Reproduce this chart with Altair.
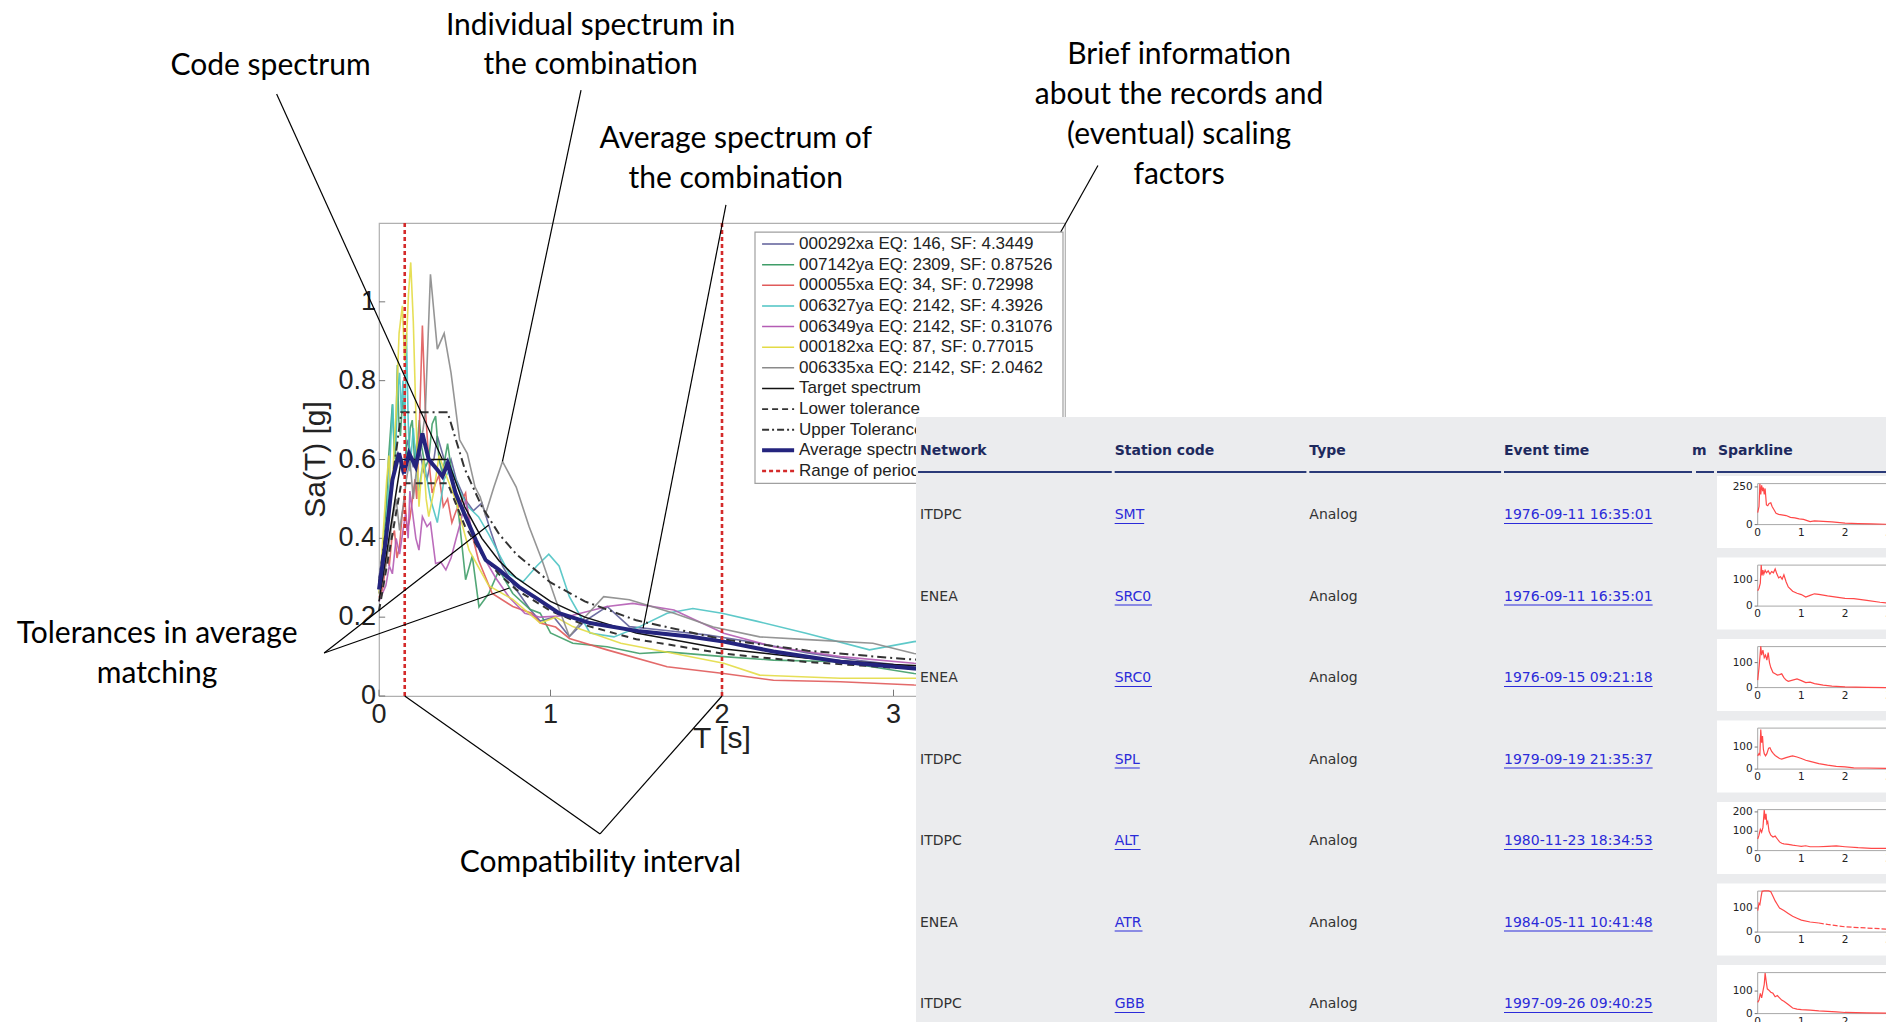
import altair as alt
import pandas as pd

# ============================================================ DATA
T_TICKS = [0, 1, 2, 3]
SA_TICKS = [0, 0.2, 0.4, 0.6, 0.8, 1.0]
SA_TICK_LABELS = ["0", "0.2", "0.4", "0.6", "0.8", "1"]
RANGE_T = [0.15, 2.0]

REC_LABELS = [
    "000292xa EQ: 146, SF: 4.3449",
    "007142ya EQ: 2309, SF: 0.87526",
    "000055xa EQ: 34, SF: 0.72998",
    "006327ya EQ: 2142, SF: 4.3926",
    "006349ya EQ: 2142, SF: 0.31076",
    "000182xa EQ: 87, SF: 0.77015",
    "006335xa EQ: 2142, SF: 2.0462",
]
REC_COLORS = ["#5e5e98", "#3f9d68", "#e05a5a", "#4cc3c3", "#b45cb4", "#e3db45", "#8a8a8a"]

T_000292 = [0, 0.02, 0.04, 0.06, 0.08, 0.1, 0.11, 0.13, 0.14, 0.16, 0.17, 0.19, 0.2, 0.22, 0.24, 0.26, 0.28,
            0.3, 0.32, 0.34, 0.36, 0.38, 0.4, 0.42, 0.45, 0.5, 0.55, 0.6, 0.65,
            0.72, 0.8, 0.88, 0.94, 1.02, 1.11, 1.2, 1.33, 1.46, 1.7, 1.91, 2.2, 2.49, 2.8, 3.12, 3.3]
SA_000292 = [0.3, 0.36, 0.42, 0.5, 0.55, 0.6, 0.62, 0.58, 0.56, 0.63, 0.65, 0.6, 0.58, 0.64, 0.62, 0.57, 0.55,
             0.59, 0.6, 0.66, 0.63, 0.6, 0.58, 0.6, 0.55, 0.5, 0.47, 0.49, 0.42,
             0.33, 0.27, 0.22, 0.19, 0.2, 0.151, 0.19, 0.227, 0.176, 0.165, 0.155, 0.135, 0.11, 0.09, 0.074, 0.07]

T_007142 = [0, 0.02, 0.03, 0.045, 0.055, 0.065, 0.078, 0.087, 0.095, 0.107, 0.115, 0.125, 0.137, 0.15, 0.16,
            0.17, 0.182, 0.194, 0.207, 0.22, 0.235, 0.25, 0.27, 0.29, 0.31, 0.33, 0.35, 0.37, 0.4,
            0.43, 0.466, 0.505, 0.544, 0.583, 0.64, 0.7, 0.78, 0.88, 0.94, 1.0, 1.13, 1.33, 1.52, 1.68, 2.01,
            2.3, 2.69, 3.12, 3.3]
SA_007142 = [0.28, 0.33, 0.4, 0.5, 0.6, 0.66, 0.74, 0.64, 0.6, 0.84, 0.7, 0.66, 0.75, 0.72, 0.62,
             0.6, 0.68, 0.7, 0.6, 0.62, 0.7, 0.63, 0.58, 0.6, 0.69, 0.71, 0.6, 0.565, 0.64,
             0.55, 0.455, 0.295, 0.355, 0.226, 0.26, 0.32, 0.26, 0.22, 0.21, 0.16, 0.134, 0.125, 0.108, 0.112, 0.1,
             0.091, 0.087, 0.057, 0.05]

T_000055 = [0, 0.02, 0.03, 0.045, 0.06, 0.075, 0.09, 0.105, 0.12, 0.135, 0.15, 0.165, 0.18, 0.195, 0.21, 0.22,
            0.233, 0.253, 0.27, 0.29, 0.31, 0.33, 0.35, 0.375, 0.4, 0.425, 0.45,
            0.505, 0.525, 0.58, 0.66, 0.78, 0.89, 0.94, 1.03, 1.11, 1.33, 1.68, 2.01, 2.3, 2.69, 3.12, 3.3]
SA_000055 = [0.25, 0.27, 0.3, 0.36, 0.33, 0.4, 0.42, 0.35, 0.38, 0.46, 0.5, 0.42, 0.45, 0.5, 0.55, 0.5,
             0.65, 0.94, 0.73, 0.6, 0.515, 0.54, 0.56, 0.48, 0.5, 0.44, 0.47,
             0.515, 0.44, 0.345, 0.26, 0.227, 0.21, 0.185, 0.175, 0.146, 0.117, 0.074, 0.057, 0.04, 0.036, 0.028,
             0.027]

T_006327 = [0, 0.02, 0.03, 0.045, 0.06, 0.07, 0.08, 0.09, 0.1, 0.11, 0.12, 0.13, 0.14, 0.15, 0.16, 0.17, 0.18,
            0.2, 0.23, 0.26, 0.3, 0.34, 0.38, 0.42, 0.47,
            0.52, 0.58, 0.64, 0.7, 0.76, 0.84, 0.92, 0.99, 1.05, 1.11, 1.23, 1.37, 1.52, 1.68, 1.83, 2.0, 2.2,
            2.49, 2.86, 3.12, 3.3]
SA_006327 = [0.27, 0.3, 0.35, 0.45, 0.55, 0.66, 0.74, 0.62, 0.66, 0.78, 0.82, 0.72, 0.8, 0.68, 0.92, 0.7, 0.57,
             0.68, 0.52, 0.6, 0.5, 0.44, 0.55, 0.58, 0.52,
             0.48, 0.455, 0.41, 0.36, 0.31, 0.29, 0.33, 0.36, 0.33, 0.252, 0.16, 0.15, 0.176, 0.21, 0.222, 0.21,
             0.19, 0.159, 0.117, 0.138, 0.145]

T_006349 = [0, 0.02, 0.04, 0.06, 0.078, 0.09, 0.1, 0.12, 0.14, 0.155, 0.17, 0.18, 0.2, 0.215, 0.233, 0.253, 0.28,
            0.3, 0.33, 0.36, 0.39, 0.42, 0.447, 0.475, 0.505,
            0.54, 0.6, 0.68, 0.76, 0.85, 0.94, 1.13, 1.33, 1.48, 1.72, 2.01, 2.3, 2.69, 3.12, 3.3]
SA_006349 = [0.24, 0.26, 0.28, 0.33, 0.31, 0.36, 0.4, 0.36, 0.42, 0.463, 0.4, 0.52, 0.45, 0.4, 0.37, 0.455, 0.43,
             0.44, 0.336, 0.34, 0.32, 0.35, 0.395, 0.44, 0.497,
             0.42, 0.36, 0.3, 0.25, 0.21, 0.2, 0.205, 0.227, 0.235, 0.218, 0.159, 0.125, 0.1, 0.083, 0.078]

T_000182 = [0, 0.015, 0.03, 0.045, 0.058, 0.07, 0.08, 0.09, 0.1, 0.117, 0.136, 0.15, 0.16, 0.172, 0.185, 0.2,
            0.214, 0.233, 0.245, 0.26, 0.275, 0.29, 0.32, 0.35,
            0.4, 0.447, 0.525, 0.64, 0.78, 0.94, 1.03, 1.13, 1.41, 1.72, 2.01, 2.22, 2.69, 3.12, 3.3]
SA_000182 = [0.26, 0.35, 0.45, 0.55, 0.61, 0.5, 0.55, 0.65, 0.72, 0.92, 0.99, 0.85, 0.9, 1.02, 1.1, 0.95,
             0.73, 0.48, 0.55, 0.6, 0.5, 0.455, 0.52, 0.61,
             0.55, 0.497, 0.37, 0.28, 0.245, 0.185, 0.2, 0.176, 0.134, 0.108, 0.083, 0.053, 0.045, 0.045, 0.045]

T_006335 = [0, 0.04, 0.08, 0.1, 0.12, 0.14, 0.16, 0.18, 0.2, 0.22, 0.24, 0.27, 0.3, 0.34, 0.38, 0.42, 0.47,
            0.515, 0.56, 0.59, 0.62, 0.67, 0.72, 0.8, 0.875, 0.95, 1.03, 1.11, 1.2, 1.31, 1.46, 1.72, 1.95, 2.22,
            2.5, 2.88, 3.12, 3.3]
SA_006335 = [0.26, 0.33, 0.45, 0.5, 0.42, 0.48, 0.55, 0.6, 0.5, 0.58, 0.62, 0.72, 1.07, 0.88, 0.92, 0.82, 0.65,
             0.615, 0.53, 0.505, 0.46, 0.53, 0.595, 0.53, 0.43, 0.345, 0.244, 0.151, 0.2, 0.252, 0.244, 0.21,
             0.175, 0.15, 0.143, 0.134, 0.108, 0.1]

T_AVG = [0, 0.04, 0.078, 0.117, 0.146, 0.175, 0.214, 0.253, 0.29, 0.34, 0.37, 0.4, 0.447, 0.505, 0.564, 0.622,
         0.7, 0.816, 0.933, 1.05, 1.23, 1.52, 1.81, 2.01, 2.3, 2.69, 3.12, 3.3]
SA_AVG = [0.27, 0.396, 0.548, 0.616, 0.565, 0.616, 0.582, 0.666, 0.6, 0.574, 0.557, 0.59, 0.514, 0.455, 0.396,
          0.345, 0.32, 0.277, 0.244, 0.21, 0.185, 0.164, 0.151, 0.138, 0.113, 0.087, 0.07, 0.066]

T_CODE = [0, 0.13, 0.4, 0.5, 0.6, 0.7, 0.8, 1.0, 1.2, 1.5, 2.0, 2.5, 3.0, 3.5, 4.0]
SA_TARGET = [0.24, 0.6, 0.6, 0.48, 0.4, 0.343, 0.3, 0.24, 0.2, 0.16, 0.12, 0.096, 0.08, 0.069, 0.06]
SA_LOWER = [0.216, 0.54, 0.54, 0.432, 0.36, 0.309, 0.27, 0.216, 0.18, 0.144, 0.108, 0.086, 0.072, 0.062, 0.054]
SA_UPPER = [0.288, 0.72, 0.72, 0.576, 0.48, 0.411, 0.36, 0.288, 0.24, 0.192, 0.144, 0.115, 0.096, 0.082, 0.072]

LEG_EXTRA = ["Target spectrum", "Lower tolerance", "Upper Tolerance", "Average spectrum",
             "Range of periods"]

# table
HEADERS = ["Network", "Station code", "Type", "Event time", "m", "Sparkline"]
NETWORK = ["ITDPC", "ENEA", "ENEA", "ITDPC", "ITDPC", "ENEA", "ITDPC"]
STATION = ["SMT", "SRC0", "SRC0", "SPL", "ALT", "ATR", "GBB"]
TYPE = ["Analog", "Analog", "Analog", "Analog", "Analog", "Analog", "Analog"]
EVENT = ["1976-09-11 16:35:01", "1976-09-11 16:35:01", "1976-09-15 09:21:18", "1979-09-19 21:35:37",
         "1980-11-23 18:34:53", "1984-05-11 10:41:48", "1997-09-26 09:40:25"]

# sparklines
SP_T1 = [0, 0.03, 0.05, 0.07, 0.09, 0.11, 0.13, 0.15, 0.17, 0.2, 0.23, 0.26, 0.3, 0.33, 0.37, 0.42, 0.48, 0.55,
         0.65, 0.75, 0.85, 0.95, 1.05, 1.15, 1.2, 1.3, 1.5, 1.7, 2.0, 2.3, 2.6, 3.0, 3.3]
SP_V1 = [80, 120, 270, 200, 260, 230, 245, 200, 240, 130, 125, 140, 145, 120, 100, 75, 68, 65,
         60, 48, 45, 38, 35, 25, 20, 25, 22, 18, 10, 7, 5, 2, 1]
SP_T2 = [0, 0.03, 0.06, 0.08, 0.1, 0.12, 0.14, 0.17, 0.2, 0.24, 0.28, 0.32, 0.36, 0.4, 0.44, 0.48, 0.52, 0.56,
         0.6, 0.65, 0.7, 0.8, 0.9, 1.0, 1.1, 1.2, 1.3, 1.4, 1.6, 1.8, 2.0, 2.2, 2.5, 2.8, 3.0, 3.3]
SP_V2 = [60, 70, 90, 160, 120, 140, 125, 140, 130, 138, 125, 135, 130, 145, 125, 110, 115, 105,
         122, 95, 75, 58, 50, 45, 35, 42, 48, 46, 40, 35, 30, 29, 22, 15, 12, 11]
SP_T3 = [0, 0.03, 0.05, 0.07, 0.09, 0.12, 0.15, 0.18, 0.21, 0.24, 0.27, 0.3, 0.35, 0.4, 0.45, 0.5, 0.55, 0.6,
         0.65, 0.7, 0.8, 0.9, 1.0, 1.1, 1.2, 1.3, 1.5, 1.7, 2.0, 2.5, 3.0, 3.3]
SP_V3 = [30, 80, 120, 165, 130, 150, 120, 130, 110, 140, 100, 80, 60, 55, 50, 52, 55, 40,
         30, 25, 30, 35, 28, 20, 22, 16, 10, 6, 3, 1, 0, 0]
SP_T4 = [0, 0.03, 0.05, 0.07, 0.09, 0.11, 0.13, 0.15, 0.18, 0.21, 0.25, 0.28, 0.32, 0.36, 0.4, 0.45, 0.5, 0.55,
         0.65, 0.75, 0.8, 0.9, 1.0, 1.1, 1.2, 1.4, 1.6, 1.8, 2.0, 2.2, 2.5, 3.0, 3.3]
SP_V4 = [60, 70, 65, 180, 120, 150, 90, 70, 60, 70, 95, 97, 80, 70, 62, 55, 48, 45,
         52, 58, 60, 55, 48, 40, 35, 25, 18, 12, 10, 6, 5, 3, 3]
SP_T5 = [0, 0.03, 0.06, 0.09, 0.12, 0.15, 0.17, 0.19, 0.21, 0.23, 0.26, 0.3, 0.35, 0.4, 0.45, 0.5, 0.55, 0.6,
         0.7, 0.8, 0.9, 1.0, 1.1, 1.2, 1.4, 1.6, 1.8, 2.0, 2.3, 2.6, 3.0, 3.3]
SP_V5 = [60, 80, 110, 95, 120, 210, 160, 190, 140, 150, 100, 80, 70, 75, 60, 45, 38, 35,
         32, 28, 25, 22, 25, 20, 20, 22, 24, 20, 15, 12, 12, 12]
SP_T6 = [0, 0.03, 0.05, 0.08, 0.1, 0.15, 0.2, 0.25, 0.3, 0.35, 0.4, 0.45, 0.5, 0.6, 0.7, 0.8, 0.9, 1.0, 1.2,
         1.4, 1.6, 1.8, 2.0, 2.2, 2.5, 2.8, 3.0, 3.3]
SP_V6 = [90, 120, 115, 150, 170, 172, 172, 172, 168, 150, 130, 115, 100, 90, 78, 66, 58, 50, 42,
         38, 32, 27, 22, 20, 17, 14, 12, 11]
SP_T7 = [0, 0.03, 0.06, 0.09, 0.12, 0.15, 0.17, 0.19, 0.22, 0.25, 0.3, 0.35, 0.4, 0.45, 0.5, 0.55, 0.6, 0.7,
         0.8, 0.9, 1.0, 1.2, 1.4, 1.6, 1.8, 2.0, 2.5, 3.0, 3.3]
SP_V7 = [50, 60, 90, 70, 100, 130, 180, 150, 110, 105, 95, 90, 75, 80, 70, 60, 55, 40,
         25, 20, 18, 15, 12, 10, 8, 5, 3, 2, 2]
SP_YMAX = [272, 160, 164, 186, 212, 171, 182]
SP_YTICKS = [[0, 250], [0, 100], [0, 100], [0, 100], [0, 100, 200], [0, 100], [0, 100]]
SP_XTICKS = [0, 1, 2, 3]
SP_GAP_FROM = [None, None, None, None, None, 1.4, None]   # where a record's curve turns into a broken line

# ============================================================ LAYOUT (page pixels)
VX0, VY0 = 379, 223          # top-left of the plot area on the page
W, H = 686, 473
PAD = {"left": VX0 - 8, "top": VY0 - 8, "right": 1878 - (VX0 - 8) - W, "bottom": 1014 - (VY0 - 8) - H}


def px(x):
    return x - VX0


def py(y):
    return y - VY0


F_PLOT = "Liberation Sans"
F_NOTE = "Lato"
F_TAB = "DejaVu Sans"

# ============================================================ MAIN PLOT
SX = alt.Scale(domain=[0, 4], nice=False, zero=False)
SY = alt.Scale(domain=[0, 1.2], nice=False, zero=False)


def XQ(f):
    return alt.X(f, type="quantitative", scale=SX, axis=None)


def YQ(f):
    return alt.Y(f, type="quantitative", scale=SY, axis=None)


recs = []
for lab, T, S in zip(REC_LABELS,
                     [T_000292, T_007142, T_000055, T_006327, T_006349, T_000182, T_006335],
                     [SA_000292, SA_007142, SA_000055, SA_006327, SA_006349, SA_000182, SA_006335]):
    recs.append(pd.DataFrame({"T": T, "Sa": S, "rec": lab}))
df_rec = pd.concat(recs, ignore_index=True)

spectra = alt.Chart(df_rec).mark_line(strokeWidth=1.6, opacity=0.9).encode(
    x=XQ("T"), y=YQ("Sa"),
    color=alt.Color("rec:N", scale=alt.Scale(domain=REC_LABELS, range=REC_COLORS), legend=None),
    detail="rec:N",
)

df_code = pd.DataFrame({"T": T_CODE, "target": SA_TARGET, "lower": SA_LOWER, "upper": SA_UPPER})
target = alt.Chart(df_code).mark_line(color="#111", strokeWidth=1.5).encode(x=XQ("T"), y=YQ("target"))
lower = alt.Chart(df_code).mark_line(color="#333", strokeWidth=2, strokeDash=[7, 5]).encode(
    x=XQ("T"), y=YQ("lower"))
upper = alt.Chart(df_code).mark_line(color="#333", strokeWidth=2, strokeDash=[9, 4, 2, 4]).encode(
    x=XQ("T"), y=YQ("upper"))
average = alt.Chart(pd.DataFrame({"T": T_AVG, "Sa": SA_AVG})).mark_line(
    color="#24247e", strokeWidth=4).encode(x=XQ("T"), y=YQ("Sa"))
ranges = alt.Chart(pd.DataFrame({"T": RANGE_T, "lo": [0, 0], "hi": [1.2, 1.2]})).mark_rule(
    color="#d42a2a", strokeWidth=2.6, strokeDash=[4, 3]).encode(x=XQ("T"), y=YQ("lo"), y2="hi:Q")

# axes drawn from the tick lists through the plot's scales
df_xt = pd.DataFrame({"T": T_TICKS, "lab": [str(v) for v in T_TICKS]})
df_xt["z"] = 0.0
df_xt["z2"] = 0.016
df_yt = pd.DataFrame({"Sa": SA_TICKS, "lab": SA_TICK_LABELS})
df_yt["z"] = 0.0
df_yt["z2"] = 0.036
x_labels = alt.Chart(df_xt).mark_text(font=F_PLOT, fontSize=27, color="#222", align="center",
                                      baseline="middle", dy=19).encode(x=XQ("T"), y=YQ("z"), text="lab:N")
y_labels = alt.Chart(df_yt).mark_text(font=F_PLOT, fontSize=27, color="#222", align="right",
                                      baseline="middle", dx=-3).encode(x=XQ("z"), y=YQ("Sa"), text="lab:N")
x_ticks = alt.Chart(df_xt).mark_rule(color="#777", strokeWidth=1).encode(x=XQ("T"), y=YQ("z"), y2="z2:Q")
y_ticks = alt.Chart(df_yt).mark_rule(color="#777", strokeWidth=1).encode(x=XQ("z"), x2="z2:Q", y=YQ("Sa"))
titles = alt.Chart(pd.DataFrame({"t": ["T [s]"], "T": [2.0], "Sa": [-0.108]})).mark_text(
    font=F_PLOT, fontSize=30, color="#222", align="center", baseline="middle").encode(
    x=XQ("T"), y=YQ("Sa"), text="t:N")
ytitle = alt.Chart(pd.DataFrame({"t": ["Sa(T) [g]"], "T": [-0.365], "Sa": [0.6]})).mark_text(
    font=F_PLOT, fontSize=30, color="#222", align="center", baseline="middle", angle=270).encode(
    x=XQ("T"), y=YQ("Sa"), text="t:N")

# annotations (positions given in the plot's own T / Sa units)
ANN_TEXT = ["Code spectrum", "Individual spectrum in", "the combination", "Average spectrum of",
            "the combination", "Brief information", "about the records and", "(eventual) scaling",
            "factors", "Tolerances in average", "matching", "Compatibility interval"]
ANN_T = [-0.632, 1.234, 1.234, 2.080, 2.080, 4.665, 4.665, 4.665, 4.665, -1.294, -1.294, 1.291]
ANN_SA = [1.598, 1.699, 1.601, 1.414, 1.312, 1.625, 1.524, 1.423, 1.322, 0.157, 0.056, -0.423]
ann_text = alt.Chart(pd.DataFrame({"t": ANN_TEXT, "T": ANN_T, "Sa": ANN_SA})).mark_text(
    font=F_NOTE, fontSize=30, color="#000", align="center", baseline="middle").encode(
    x=XQ("T"), y=YQ("Sa"), text="t:N")

LEAD_T1 = [-0.597, 1.178, 2.023, 4.192, -0.32, -0.32, 1.289, 1.289]
LEAD_S1 = [1.527, 1.537, 1.246, 1.346, 0.109, 0.109, -0.35, -0.35]
LEAD_T2 = [0.37, 0.72, 1.54, 3.967, 0.64, 0.76, 0.15, 2.0]
LEAD_S2 = [0.60, 0.595, 0.172, 1.171, 0.434, 0.274, 0.0, 0.0]
leaders = alt.Chart(pd.DataFrame({"T1": LEAD_T1, "S1": LEAD_S1, "T2": LEAD_T2, "S2": LEAD_S2})).mark_rule(
    color="#000", strokeWidth=1.2).encode(x=XQ("T1"), y=YQ("S1"), x2="T2:Q", y2="S2:Q")

main = alt.layer(x_ticks, y_ticks, spectra, target, lower, upper, average, ranges,
                 x_labels, y_labels, titles, ytitle, leaders, ann_text)

# ============================================================ LEGEND (inside plot box)
leg_labels = REC_LABELS + LEG_EXTRA
N_LEG = len(leg_labels)
LX = alt.Scale(domain=[0, 1], range=[px(755), px(1063)], nice=False, zero=False)
LY = alt.Scale(domain=[0, N_LEG - 1], range=[py(244), py(471)], nice=False, zero=False)
df_leg = pd.DataFrame({"i": list(range(N_LEG)), "lab": leg_labels})
df_leg["a"] = 0.023
df_leg["b"] = 0.127
df_leg["tx"] = 0.143

leg_box = alt.Chart(pd.DataFrame({"x0": [0], "x1": [1], "y0": [-0.58], "y1": [11.6]})).mark_rect(
    fill="white", stroke="#a0a0a0", strokeWidth=1.2).encode(
    x=alt.X("x0:Q", scale=LX, axis=None), x2="x1:Q",
    y=alt.Y("y0:Q", scale=LY, axis=None), y2="y1:Q")


def leg_line(idx, **kw):
    return alt.Chart(df_leg.iloc[[idx]]).mark_rule(**kw).encode(
        x=alt.X("a:Q", scale=LX, axis=None), x2="b:Q", y=alt.Y("i:Q", scale=LY, axis=None))


leg_cols = alt.Chart(df_leg.iloc[0:7]).mark_rule(strokeWidth=1.5).encode(
    x=alt.X("a:Q", scale=LX, axis=None), x2="b:Q", y=alt.Y("i:Q", scale=LY, axis=None),
    color=alt.Color("lab:N", scale=alt.Scale(domain=REC_LABELS, range=REC_COLORS), legend=None))
leg_text = alt.Chart(df_leg).mark_text(font=F_PLOT, fontSize=17, color="#222", align="left",
                                       baseline="middle").encode(
    x=alt.X("tx:Q", scale=LX, axis=None), y=alt.Y("i:Q", scale=LY, axis=None), text="lab:N")

legend = alt.layer(
    leg_box, leg_cols,
    leg_line(7, color="#111", strokeWidth=1.6),
    leg_line(8, color="#333", strokeWidth=1.8, strokeDash=[6, 4]),
    leg_line(9, color="#333", strokeWidth=1.8, strokeDash=[7, 3, 2, 3]),
    leg_line(10, color="#24247e", strokeWidth=4),
    leg_line(11, color="#d42a2a", strokeWidth=2.5, strokeDash=[4, 3]),
    leg_text,
)

# ============================================================ TABLE
COL_PITCH = (1504 - 920) / 3.0
ROW_PITCH = 81.5
CX = alt.Scale(domain=[0, 3], range=[px(920), px(1504)], nice=False, zero=False)
RY = alt.Scale(domain=[0, 6], range=[py(515), py(515 + 6 * ROW_PITCH)], nice=False, zero=False)
HEAD_COL = [0, 1, 2, 3, (1692 - 920) / COL_PITCH, (1718 - 920) / COL_PITCH]
HEAD_ROW = (451 - 515) / ROW_PITCH
LINE_ROW = (472 - 515) / ROW_PITCH
SEG_A = [-0.01, 1.0, 2.0, 3.0, (1696 - 920) / COL_PITCH, (1717 - 920) / COL_PITCH]
SEG_B = [0.985, 1.985, 2.985, (1692 - 920) / COL_PITCH, (1714 - 920) / COL_PITCH, 5.3]

panel = alt.Chart(pd.DataFrame({"c0": [(916 - 920) / COL_PITCH], "c1": [5.3],
                                "r0": [(417 - 515) / ROW_PITCH], "r1": [6.6]})).mark_rect(
    fill="#ebecee").encode(x=alt.X("c0:Q", scale=CX, axis=None), x2="c1:Q",
                          y=alt.Y("r0:Q", scale=RY, axis=None), y2="r1:Q")
head = alt.Chart(pd.DataFrame({"t": HEADERS, "c": HEAD_COL, "r": HEAD_ROW})).mark_text(
    font=F_TAB, fontSize=14, fontWeight="bold", color="#1e2a5e", align="left", baseline="middle").encode(
    x=alt.X("c:Q", scale=CX, axis=None), y=alt.Y("r:Q", scale=RY, axis=None), text="t:N")
head_line = alt.Chart(pd.DataFrame({"a": SEG_A, "b": SEG_B, "r": LINE_ROW})).mark_rule(
    color="#2a3a78", strokeWidth=2).encode(
    x=alt.X("a:Q", scale=CX, axis=None), x2="b:Q", y=alt.Y("r:Q", scale=RY, axis=None))

rows = list(range(len(NETWORK)))
df_plain = pd.DataFrame({"t": NETWORK + TYPE, "c": [0] * 7 + [2] * 7, "r": rows + rows})
cells = alt.Chart(df_plain).mark_text(font=F_TAB, fontSize=14, color="#333", align="left",
                                      baseline="middle").encode(
    x=alt.X("c:Q", scale=CX, axis=None), y=alt.Y("r:Q", scale=RY, axis=None), text="t:N")

CW = {"0": .636, "1": .636, "2": .636, "3": .636, "4": .636, "5": .636, "6": .636, "7": .636, "8": .636,
      "9": .636, "-": .361, ":": .337, " ": .318, "S": .635, "M": .863, "T": .611, "R": .695, "C": .698,
      "P": .603, "L": .557, "A": .684, "B": .686, "G": .775}
links_t = STATION + EVENT
links_c = [1] * 7 + [3] * 7
links_w = [sum(CW.get(ch, 0.6) for ch in s) * 14 / COL_PITCH for s in links_t]
df_links = pd.DataFrame({"t": links_t, "c": links_c, "r": rows + rows,
                         "c2": [c + w for c, w in zip(links_c, links_w)],
                         "ru": [r + 8.5 / ROW_PITCH for r in rows + rows]})
links = alt.Chart(df_links).mark_text(font=F_TAB, fontSize=14, color="#2b2bd9", align="left",
                                      baseline="middle").encode(
    x=alt.X("c:Q", scale=CX, axis=None), y=alt.Y("r:Q", scale=RY, axis=None), text="t:N")
underl = alt.Chart(df_links).mark_rule(color="#2b2bd9", strokeWidth=1).encode(
    x=alt.X("c:Q", scale=CX, axis=None), x2="c2:Q", y=alt.Y("ru:Q", scale=RY, axis=None))

df_boxes = pd.DataFrame({"r0": [r - 39 / ROW_PITCH for r in rows], "r1": [r + 33 / ROW_PITCH for r in rows]})
df_boxes["c0"] = (1717 - 920) / COL_PITCH
df_boxes["c1"] = 5.3
spark_boxes = alt.Chart(df_boxes).mark_rect(fill="white").encode(
    x=alt.X("c0:Q", scale=CX, axis=None), x2="c1:Q",
    y=alt.Y("r0:Q", scale=RY, axis=None), y2="r1:Q")

table = alt.layer(panel, head, head_line, cells, links, underl, spark_boxes)

# ============================================================ SPARKLINES
SP_T = [SP_T1, SP_T2, SP_T3, SP_T4, SP_T5, SP_T6, SP_T7]
SP_V = [SP_V1, SP_V2, SP_V3, SP_V4, SP_V5, SP_V6, SP_V7]
SPX = alt.Scale(domain=[0, 3], range=[px(1757.7), px(1888.7)], nice=False, zero=False)
sparks = []
for i in range(7):
    zero_y = 524.6 + i * ROW_PITCH
    top_y = zero_y - 41
    SPY = alt.Scale(domain=[0, SP_YMAX[i]], range=[py(zero_y), py(top_y)], nice=False, zero=False)
    df_sp = pd.DataFrame({"t": SP_T[i], "v": SP_V[i]})
    parts = []
    if SP_GAP_FROM[i] is None:
        parts.append(alt.Chart(df_sp).mark_line(color="#ff4848", strokeWidth=1.2).encode(
            x=alt.X("t:Q", scale=SPX, axis=None), y=alt.Y("v:Q", scale=SPY, axis=None)))
    else:
        g = SP_GAP_FROM[i]
        parts.append(alt.Chart(df_sp[df_sp.t <= g]).mark_line(color="#ff4848", strokeWidth=1.2).encode(
            x=alt.X("t:Q", scale=SPX, axis=None), y=alt.Y("v:Q", scale=SPY, axis=None)))
        parts.append(alt.Chart(df_sp[df_sp.t >= g]).mark_line(color="#ff4848", strokeWidth=1.2,
                                                             strokeDash=[5, 2]).encode(
            x=alt.X("t:Q", scale=SPX, axis=None), y=alt.Y("v:Q", scale=SPY, axis=None)))
    frame = alt.Chart(pd.DataFrame({"a": [0], "b": [3.6], "lo": [0], "hi": [SP_YMAX[i]]})).mark_rect(
        fillOpacity=0, stroke="#a8a8a8", strokeWidth=1).encode(
        x=alt.X("a:Q", scale=SPX, axis=None), x2="b:Q", y=alt.Y("lo:Q", scale=SPY, axis=None), y2="hi:Q")
    yt = pd.DataFrame({"v": SP_YTICKS[i], "lab": [str(v) for v in SP_YTICKS[i]]})
    yt["a"] = 0.0
    yt["b"] = -0.07
    ylab = alt.Chart(yt).mark_text(font=F_TAB, fontSize=10.5, color="#222", align="right",
                                   baseline="middle", dx=-5).encode(
        x=alt.X("a:Q", scale=SPX, axis=None), y=alt.Y("v:Q", scale=SPY, axis=None), text="lab:N")
    ytick = alt.Chart(yt).mark_rule(color="#777", strokeWidth=1).encode(
        x=alt.X("b:Q", scale=SPX, axis=None), x2="a:Q", y=alt.Y("v:Q", scale=SPY, axis=None))
    xt = pd.DataFrame({"t": SP_XTICKS, "lab": [str(v) for v in SP_XTICKS]})
    xt["z"] = 0.0
    xlab = alt.Chart(xt).mark_text(font=F_TAB, fontSize=10.5, color="#222", align="center",
                                   baseline="top", dy=3).encode(
        x=alt.X("t:Q", scale=SPX, axis=None), y=alt.Y("z:Q", scale=SPY, axis=None), text="lab:N")
    sparks.append(alt.layer(frame, *parts, ylab, ytick, xlab))

# ============================================================ COMPOSE
chart = alt.layer(main, legend, table, *sparks).resolve_scale(
    x="independent", y="independent", color="independent"
).properties(
    width=W, height=H, padding=PAD, autosize=alt.AutoSizeParams(type="none"), background="white"
).configure_view(stroke="#b0b0b0", strokeWidth=1.2)

chart.save("out.html", embed_options={"renderer": "svg", "actions": False})
